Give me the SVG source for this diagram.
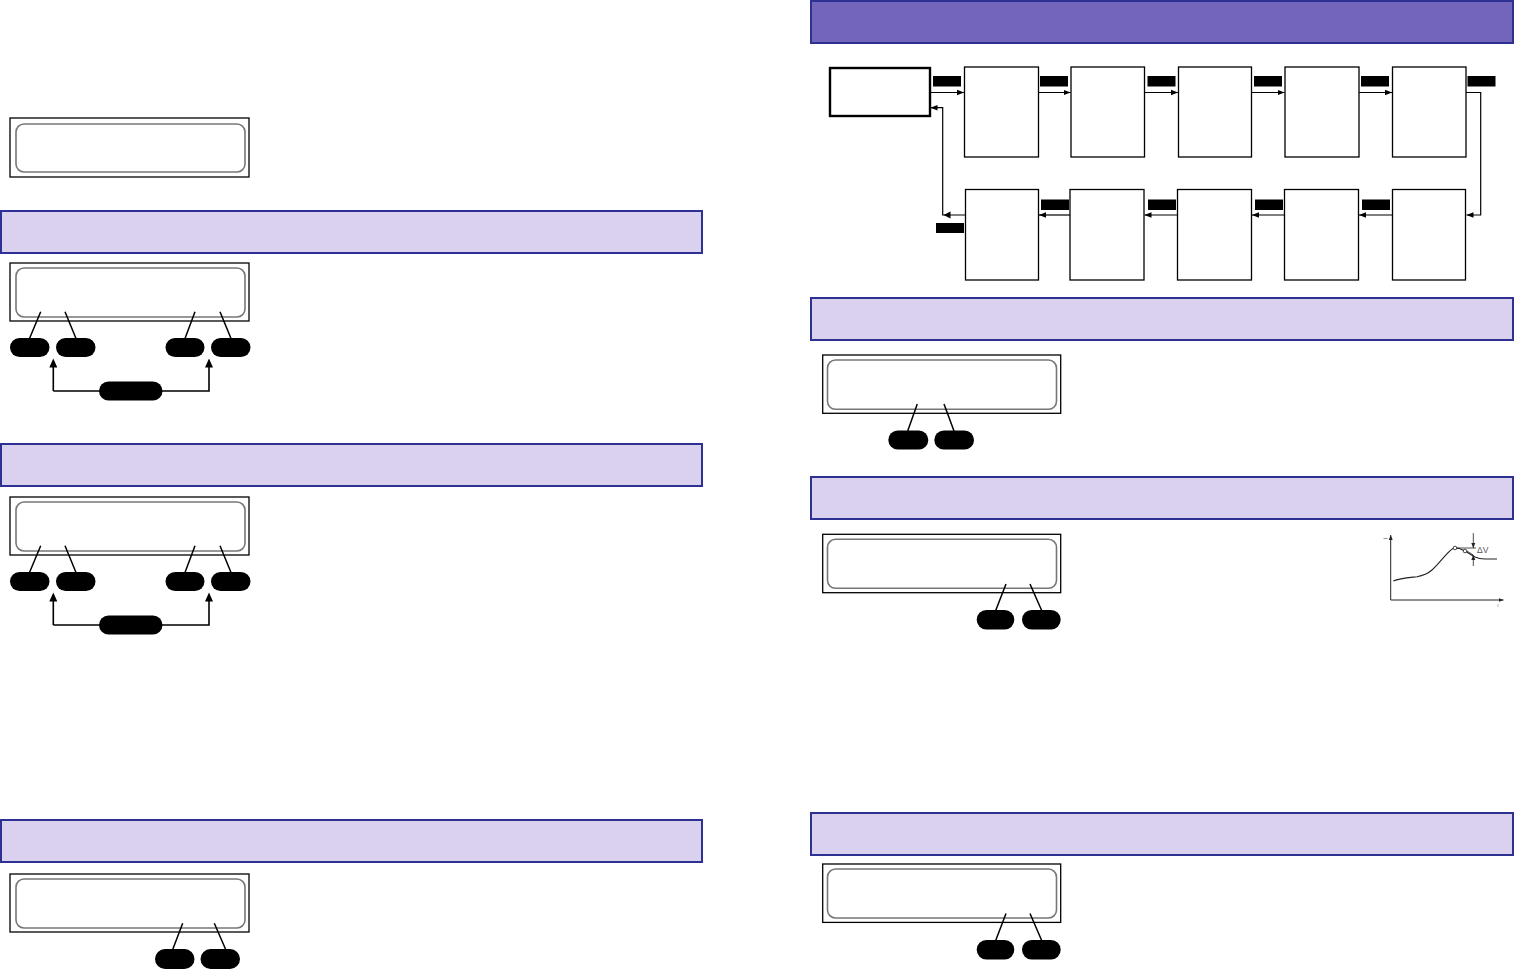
<svg xmlns="http://www.w3.org/2000/svg" width="1514" height="970" viewBox="0 0 1514 970">
<style>
.ban{fill:#d9d1ee;stroke:#2e3192;stroke-width:2}
.bant{fill:#7366ba;stroke:#2e3192;stroke-width:2}
.outer{fill:#fff;stroke:#000;stroke-width:1.3}
.inner{fill:none;stroke:#777;stroke-width:1.6}
.pill{fill:#000}
.lead{stroke:#000;stroke-width:1.5;fill:none}
.box{fill:#fff;stroke:#000;stroke-width:1.3}
.lbl{fill:#000}
.con{stroke:#000;stroke-width:1.2;fill:none}
.ax{stroke:#222;stroke-width:1;fill:none}
</style>
<defs>
<marker id="ah" viewBox="0 0 10 10" refX="10" refY="5" markerWidth="7" markerHeight="7" markerUnits="userSpaceOnUse" orient="auto"><path d="M0,1 L10,5 L0,9 Z" fill="#000"/></marker>
<marker id="ah2" viewBox="0 0 10 10" refX="10" refY="5" markerWidth="9" markerHeight="9" markerUnits="userSpaceOnUse" orient="auto"><path d="M0,1 L10,5 L0,9 Z" fill="#000"/></marker>
<marker id="sa" viewBox="0 0 10 10" refX="10" refY="5" markerWidth="5" markerHeight="5" markerUnits="userSpaceOnUse" orient="auto"><path d="M0,1 L10,5 L0,9 Z" fill="#222"/></marker>
</defs>

<!-- Left column -->
<g id="display-l1">
<rect class="outer" x="10" y="118" width="239" height="59"/>
<rect class="inner" x="16" y="124" width="229" height="48" rx="8"/>
</g>
<g id="banner-l1"><rect class="ban" x="1" y="211" width="701" height="42"/></g>
<g id="display-l2">
<rect class="outer" x="10" y="263" width="239" height="58"/>
<rect class="inner" x="16" y="268" width="229" height="49" rx="8"/>
<path class="lead" d="M40.7,311.7 L29.5,338.5 M65,311.7 L76,338.5 M195,311.7 L185,338.5 M220,311.7 L231,338.5"/>
<rect class="pill" x="10" y="338" width="39.5" height="19" rx="9.5"/>
<rect class="pill" x="56" y="338" width="39.5" height="19" rx="9.5"/>
<rect class="pill" x="165.5" y="338" width="39" height="19" rx="9.5"/>
<rect class="pill" x="211" y="338" width="39.5" height="19" rx="9.5"/>
</g>
<g id="banner-l2"><rect class="ban" x="1" y="444" width="701" height="42"/></g>
<g id="display-l3">
<rect class="outer" x="10" y="497" width="239" height="58"/>
<rect class="inner" x="16" y="502" width="229" height="49" rx="8"/>
<path class="lead" d="M40.7,545.7 L29.5,572.5 M65,545.7 L76,572.5 M195,545.7 L185,572.5 M220,545.7 L231,572.5"/>
<rect class="pill" x="10" y="572" width="39.5" height="19" rx="9.5"/>
<rect class="pill" x="56" y="572" width="39.5" height="19" rx="9.5"/>
<rect class="pill" x="165.5" y="572" width="39" height="19" rx="9.5"/>
<rect class="pill" x="211" y="572" width="39.5" height="19" rx="9.5"/>
</g>
<g id="banner-l3"><rect class="ban" x="1" y="820" width="701" height="42"/></g>
<g id="display-l4">
<rect class="outer" x="10" y="874" width="239" height="58"/>
<rect class="inner" x="16" y="879" width="229" height="49" rx="8"/>
<path class="lead" d="M182.7,923.3 L172.7,949.5 M214.3,923.3 L225.7,949.5"/>
<rect class="pill" x="155" y="949" width="39.5" height="20" rx="10"/>
<rect class="pill" x="200.5" y="949" width="39.5" height="20" rx="10"/>
</g>
<g id="selector-l2"><rect class="pill" x="99" y="381.5" width="63.5" height="19" rx="9.5"/></g>
<g id="selector-l3"><rect class="pill" x="99" y="615.5" width="63.5" height="19" rx="9.5"/></g>

<!-- Right column -->
<g id="banner-top"><rect class="bant" x="811" y="1" width="702" height="42"/></g>

<g id="flow-start"><rect class="box" x="830" y="68" width="100" height="48" style="stroke-width:2.4"/></g>
<g id="flow-t1"><rect class="box" x="964.5" y="67" width="74" height="90"/></g>
<g id="flow-t2"><rect class="box" x="1071" y="67" width="73.5" height="90"/></g>
<g id="flow-t3"><rect class="box" x="1178.5" y="67" width="73" height="90"/></g>
<g id="flow-t4"><rect class="box" x="1285" y="67" width="74" height="90"/></g>
<g id="flow-t5"><rect class="box" x="1392.5" y="67" width="73.5" height="90"/></g>
<g id="flow-b1"><rect class="box" x="965.5" y="189.5" width="73" height="90.5"/></g>
<g id="flow-b2"><rect class="box" x="1070" y="189.5" width="74" height="90.5"/></g>
<g id="flow-b3"><rect class="box" x="1177.5" y="189.5" width="74" height="90.5"/></g>
<g id="flow-b4"><rect class="box" x="1284.5" y="189.5" width="74" height="90.5"/></g>
<g id="flow-b5"><rect class="box" x="1392.5" y="189.5" width="73" height="90.5"/></g>

<g id="connectors">
<path class="con" d="M930,92.5 H964" marker-end="url(#ah)"/>
<path class="con" d="M1038.5,92.5 H1070.5" marker-end="url(#ah)"/>
<path class="con" d="M1144.5,92.5 H1178" marker-end="url(#ah)"/>
<path class="con" d="M1251.5,92.5 H1284.5" marker-end="url(#ah)"/>
<path class="con" d="M1359,92.5 H1392" marker-end="url(#ah)"/>
<path class="con" d="M1466,92.5 H1480.7 V215 H1466.5" marker-end="url(#ah)"/>
<path class="con" d="M1392.5,215 H1359" marker-end="url(#ah)"/>
<path class="con" d="M1284.5,215 H1252" marker-end="url(#ah)"/>
<path class="con" d="M1177.5,215 H1144.5" marker-end="url(#ah)"/>
<path class="con" d="M1070,215 H1039" marker-end="url(#ah)"/>
<path class="con" d="M965.5,215 H942.7 V107.7 H930.5" marker-end="url(#ah)"/>
<path d="M943.5,215 l7,-3.5 v7 z" fill="#000"/>
<rect class="lbl" x="933" y="76" width="28" height="10.5"/>
<rect class="lbl" x="1040" y="76" width="28" height="10.5"/>
<rect class="lbl" x="1147.5" y="76" width="28" height="10.5"/>
<rect class="lbl" x="1254" y="76" width="28" height="10.5"/>
<rect class="lbl" x="1361" y="76" width="28" height="10.5"/>
<rect class="lbl" x="1467.5" y="76" width="28" height="10.5"/>
<rect class="lbl" x="1362" y="199.5" width="28" height="10.5"/>
<rect class="lbl" x="1255" y="199.5" width="28" height="10.5"/>
<rect class="lbl" x="1148" y="199.5" width="28" height="10.5"/>
<rect class="lbl" x="1041" y="199.5" width="28" height="10.5"/>
<rect class="lbl" x="936" y="223" width="28" height="10"/>
<path class="lead" d="M53.3,391 V361 M53.3,391 H209 V361" style="stroke-width:1.6"/>
<path d="M53.3,358.5 l-4,9 h8 z M209,358.5 l-4,9 h8 z" fill="#000"/>
<path class="lead" d="M53.3,625 V595 M53.3,625 H209 V595" style="stroke-width:1.6"/>
<path d="M53.3,592.5 l-4,9 h8 z M209,592.5 l-4,9 h8 z" fill="#000"/>
</g>

<g id="banner-r1"><rect class="ban" x="811" y="298" width="702" height="42"/></g>
<g id="display-r1">
<rect class="outer" x="822.7" y="355" width="238" height="58.3"/>
<rect class="inner" x="827.5" y="360" width="229" height="49.3" rx="8"/>
<path class="lead" d="M917.3,404 L907.7,431 M944,404 L954,431"/>
<rect class="pill" x="888.3" y="430.5" width="40" height="19" rx="9.5"/>
<rect class="pill" x="934.3" y="430.5" width="39.7" height="19" rx="9.5"/>
</g>

<g id="banner-r2"><rect class="ban" x="811" y="477" width="702" height="42"/></g>
<g id="display-r2">
<rect class="outer" x="822.7" y="534.3" width="238" height="58.4"/>
<rect class="inner" x="827.5" y="539.3" width="229" height="49" rx="8"/>
<path class="lead" d="M1006,584 L995.7,610.5 M1030,584 L1041.7,610.5"/>
<rect class="pill" x="976.7" y="610" width="37.6" height="19.5" rx="9.7"/>
<rect class="pill" x="1022" y="610" width="38.7" height="19.5" rx="9.7"/>
</g>

<g id="graph">
<path class="ax" d="M1390.7,600 V535" marker-end="url(#sa)"/>
<path class="ax" d="M1390.7,600 H1503.5" marker-end="url(#sa)"/>
<path class="ax" d="M1383.5,538.5 H1387.5" style="stroke:#999"/>
<path class="ax" d="M1498,604 V607" style="stroke:#bbb"/>
<path class="ax" d="M1393.3,581 C1400,578 1410,577.5 1417,576.7 C1424,575.5 1428,573.5 1432,570 C1440,563 1447,552 1453,548.5 C1457,546.5 1461,549 1465,551 C1469,553 1472,555.5 1475,557 C1479,558.8 1482,559 1485,559 H1497" style="stroke-width:1.1"/>
<circle cx="1455" cy="548" r="1.8" fill="#fff" stroke="#222" stroke-width="0.8"/>
<circle cx="1465" cy="551" r="1.8" fill="#fff" stroke="#222" stroke-width="0.8"/>
<path class="ax" d="M1456.8,548 H1476" style="stroke-width:0.8"/>
<path class="ax" d="M1466.8,551 L1473.3,555" style="stroke-width:0.8"/>
<path class="ax" d="M1473.3,533 V548" style="stroke-width:0.8" marker-end="url(#sa)"/>
<path class="ax" d="M1473.3,566 V555" style="stroke-width:0.8" marker-end="url(#sa)"/>
<text x="1477" y="552.5" font-family="Liberation Sans, Arial, sans-serif" font-size="8.5" fill="#555">ΔV</text>
</g>

<g id="banner-r3"><rect class="ban" x="811" y="813" width="702" height="42"/></g>
<g id="display-r3">
<rect class="outer" x="822.7" y="864" width="238" height="58.4"/>
<rect class="inner" x="827.5" y="869" width="229" height="49" rx="8"/>
<path class="lead" d="M1006,913.5 L995.7,940.5 M1030,913.5 L1041.7,940.5"/>
<rect class="pill" x="976.7" y="940" width="37.6" height="19.5" rx="9.7"/>
<rect class="pill" x="1022" y="940" width="38.7" height="19.5" rx="9.7"/>
</g>
</svg>
